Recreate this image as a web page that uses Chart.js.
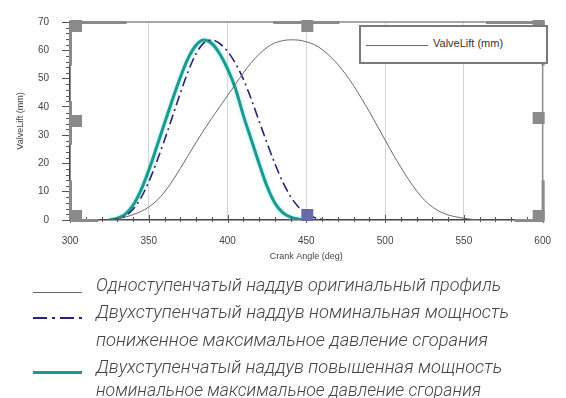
<!DOCTYPE html>
<html>
<head>
<meta charset="utf-8">
<script src="https://cdn.jsdelivr.net/npm/chart.js@4.4.1/dist/chart.umd.min.js"></script>
<style>
  html, body { margin:0; padding:0; background:#fff; }
  #wrap { position:relative; width:566px; height:398px; overflow:hidden; }
  #c { position:absolute; left:0; top:0; }
  .inlegend { position:absolute; left:359px; top:25px; width:185px; height:35px; border:2px solid #7a7a7a; box-sizing:content-box; background:#fff; }
  .inlegend .ln { position:absolute; left:5px; top:18px; width:62px; height:0; border-top:1px solid #6a6a6a; }
  .inlegend .tx { position:absolute; left:72px; top:10px; font:11px "Liberation Sans", Arial, sans-serif; color:#333; white-space:nowrap; }
  .row { position:absolute; left:96px; font: italic 300 17px "Roboto", "DejaVu Sans", sans-serif; color:#444; white-space:nowrap; transform-origin:0 50%; line-height:20px; }
  .smp { position:absolute; left:33px; width:49px; height:0; }
</style>
</head>
<body>
<div id="wrap">
  <canvas id="c" width="566" height="398"></canvas>
  <div class="inlegend"><div class="ln"></div><div class="tx">ValveLift (mm)</div></div>
  <div class="smp" style="top:292px;border-top:1px solid #6a6a6a;"></div>
  <svg class="smp" style="top:316px;height:4px;" width="49" height="4"><line x1="0" y1="2" x2="49" y2="2" stroke="#23237a" stroke-width="2" stroke-dasharray="14,5,3,5"/></svg>
  <div class="smp" style="top:371px;border-top:3px solid #1e9a8c;"></div>
  <div class="row" data-w="405" style="top:275px;">Одноступенчатый наддув оригинальный профиль</div>
  <div class="row" data-w="413" style="top:302px;">Двухступенчатый наддув номинальная мощность</div>
  <div class="row" data-w="392" style="top:330px;">пониженное максимальное давление сгорания</div>
  <div class="row" data-w="406" style="top:357px;">Двухступенчатый наддув повышенная мощность</div>
  <div class="row" data-w="385" style="top:380px;">номинальное максимальное давление сгорания</div>
</div>
<script>
// ---- data ----
const xTicks = [300, 350, 400, 450, 500, 550, 600];
const yTicks = [0, 10, 20, 30, 40, 50, 60, 70];

const angleOriginal = [325,330,335,340,345,350,355,360,365,370,375,380,385,390,395,400,405,410,415,420,425,430,435,440,445,450,455,460,465,470,475,480,485,490,495,500,505,510,515,520,525,530,535,540,545,550,555,560];
const liftOriginal  = [0,0.4,1,1.9,3,4.6,6.8,9.9,13.8,18.2,22.8,27.4,31.8,36,40,44,48,52,55.6,58.6,61,62.6,63.4,63.7,63.6,63,62,60.3,57.9,55,51.5,47.5,43,38.3,33.3,28.3,23.3,18.6,14.2,10.3,7,4.6,2.9,1.8,1.1,0.6,0.25,0];

const angleNominal = [325,330,335,340,345,350,355,360,365,370,375,380,385,390,395,400,405,410,415,420,425,430,435,440,445,450,455,460,465];
const liftNominal  = [0,0.3,1.3,3.8,7.8,13.5,20.5,28.3,36.5,44.8,52.5,58.8,62.6,63.6,62.4,59.6,55.4,49.8,42.8,35,27.3,20,13.5,8.3,4.6,2.3,0.9,0.2,0];

const angleBoost = [325,330,335,340,345,350,355,360,365,370,375,380,385,390,395,400,405,410,415,420,425,430,435,440,445,450];
const liftBoost  = [0,0.6,2,5.2,10.5,17.6,25.8,34.2,42.5,50.4,57.2,61.8,63.6,62.4,58.8,53.4,46.5,37,28.5,20,12,6,2.6,1,0.3,0];

const seriesLabels = ["Одноступенчатый наддув оригинальный профиль",
  "Двухступенчатый наддув номинальная мощность, пониженное максимальное давление сгорания",
  "Двухступенчатый наддув повышенная мощность, номинальное максимальное давление сгорания"];

const toXY = (xs, ys) => xs.map((x, i) => ({x, y: ys[i]}));

// decorations: minor ticks + origin-style frame handles
const decor = {
  id: 'decor',
  beforeDatasetsDraw(chart) {
    const {ctx, chartArea: a} = chart;
    ctx.save();
    ctx.strokeStyle = '#8a8a8a'; ctx.lineWidth = 1.5;
    ctx.beginPath(); ctx.moveTo(a.left, a.top); ctx.lineTo(a.right, a.top); ctx.lineTo(a.right, a.bottom); ctx.stroke();
    ctx.restore();
  },
  afterDraw(chart) {
    const {ctx, chartArea: a, scales: {x, y}} = chart;
    ctx.save();
    ctx.strokeStyle = '#555'; ctx.lineWidth = 1;
    for (let v = 300; v <= 600; v += 10) {
      const px = Math.round(x.getPixelForValue(v)) + 0.5;
      const major = v % 50 === 0;
      ctx.beginPath(); ctx.moveTo(px, a.bottom - (major ? 5 : 3)); ctx.lineTo(px, a.bottom + (major ? 3 : 2)); ctx.stroke();
    }
    for (let v = 0; v <= 70; v += 2) {
      if (v % 10 === 0) continue;
      const py = Math.round(y.getPixelForValue(v)) + 0.5;
      ctx.beginPath(); ctx.moveTo(a.left - 4, py); ctx.lineTo(a.left, py); ctx.stroke();
    }
    ctx.fillStyle = '#8a8a8a';
    const H = a.bottom - a.top, W = a.right - a.left;
    const vbar = (x0, y0, y1) => ctx.fillRect(x0 - 1, y0, 3, y1 - y0);
    const hbar = (y0, x0, x1) => ctx.fillRect(x0, y0 - 1, x1 - x0, 3);
    vbar(a.left, a.top, a.top + H * 0.22);
    vbar(a.left, a.top + H * 0.4, a.top + H * 0.62);
    vbar(a.left, a.bottom - H * 0.2, a.bottom);
    vbar(a.right, a.top, a.top + H * 0.22);
    vbar(a.right, a.bottom - H * 0.2, a.bottom);
    hbar(a.top, a.left, a.left + W * 0.12);
    hbar(a.top, a.left + W * 0.43, a.left + W * 0.57);
    hbar(a.top, a.right - W * 0.12, a.right);
    hbar(a.bottom, a.left, a.left + W * 0.06);
    hbar(a.bottom, a.right - W * 0.06, a.right);
    const sq = (cx, cy, col) => { ctx.fillStyle = col; ctx.fillRect(cx - 6, cy - 6, 12, 12); };
    const mx = (a.left + a.right) / 2, my = (a.top + a.bottom) / 2;
    sq(a.left + 6, a.top + 4, '#8a8a8a');
    sq(mx + 1, a.top + 4, '#8a8a8a');
    sq(a.right - 4, a.top + 4, '#8a8a8a');
    sq(a.left + 6, my, '#8a8a8a');
    sq(a.right - 4, my - 3, '#8a8a8a');
    sq(a.left + 6, a.bottom - 4, '#8a8a8a');
    sq(a.right - 4, a.bottom - 4, '#8a8a8a');
    sq(mx + 1, a.bottom - 5, '#6a6aa8');
    ctx.restore();
  }
};

const glow = {
  id: 'glow',
  beforeDatasetDraw(chart, args) {
    if (args.index === 2) { const c = chart.ctx; c.save(); c.shadowColor = 'rgba(120,230,235,0.9)'; c.shadowBlur = 3; }
  },
  afterDatasetDraw(chart, args) {
    if (args.index === 2) chart.ctx.restore();
  }
};

new Chart(document.getElementById('c'), {
  type: 'line',
  data: {
    datasets: [
      { label: seriesLabels[0], data: toXY(angleOriginal, liftOriginal), borderColor: '#6a6a6a', borderWidth: 1, pointRadius: 0, cubicInterpolationMode: 'monotone' },
      { label: seriesLabels[1], data: toXY(angleNominal, liftNominal), borderColor: '#23237a', borderWidth: 1.6, borderDash: [10, 4, 2, 4], pointRadius: 0, cubicInterpolationMode: 'monotone' },
      { label: seriesLabels[2], data: toXY(angleBoost, liftBoost), borderColor: '#1e9a8c', borderWidth: 3, pointRadius: 0, cubicInterpolationMode: 'monotone' }
    ]
  },
  options: {
    responsive: false, animation: false,
    layout: { padding: { top: 22, right: 16, bottom: 134, left: 0 } },
    plugins: { legend: { display: false }, tooltip: { enabled: false } },
    scales: {
      x: {
        type: 'linear', min: 300, max: 600,
        afterFit(s) { s.height = 44; },
        afterBuildTicks(s) { s.ticks = xTicks.map(v => ({value: v})); },
        grid: { color: '#d4d4d4', lineWidth: 1, drawTicks: false },
        border: { color: '#444', width: 1.5 },
        ticks: { padding: 15, color: '#444', font: { family: 'Liberation Sans', size: 10 } },
        title: { display: true, text: 'Crank Angle (deg)', color: '#444', font: { family: 'Liberation Sans', size: 9 }, padding: { top: 0, bottom: 2 } }
      },
      y: {
        min: 0, max: 70,
        afterFit(s) { s.width = 70; },
        afterBuildTicks(s) { s.ticks = yTicks.map(v => ({value: v})); },
        grid: { drawOnChartArea: false, drawTicks: true, tickLength: 8, color: '#555' },
        border: { color: '#444', width: 1.5 },
        ticks: { padding: 13, color: '#444', font: { family: 'Liberation Sans', size: 10 } },
        title: { display: true, text: 'ValveLift (mm)', color: '#444', font: { family: 'Liberation Sans', size: 9 }, padding: { top: 15, bottom: 0 } }
      }
    }
  },
  plugins: [decor, glow]
});

document.querySelectorAll('.row').forEach(el => {
  const w = el.getBoundingClientRect().width;
  const t = +el.dataset.w;
  el.style.transform = 'scale(' + (t / w).toFixed(3) + ',1.08)';
});
</script>
</body>
</html>
